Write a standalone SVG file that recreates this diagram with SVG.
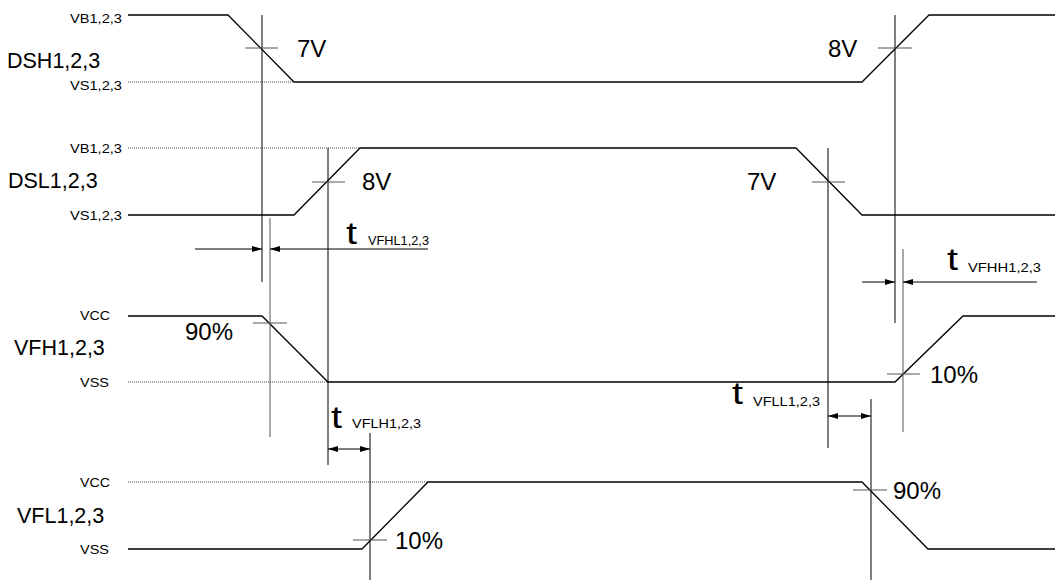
<svg xmlns="http://www.w3.org/2000/svg" width="1055" height="580" viewBox="0 0 1055 580">
<style>
text{font-family:"Liberation Sans",Arial,sans-serif;fill:#000}
.wave{fill:none;stroke:#000;stroke-width:1.3}
.dot{fill:none;stroke:#444;stroke-width:1;stroke-dasharray:1 1}
.v{stroke:#000;stroke-width:1}
.vg{stroke:#555;stroke-width:1}
.tick{stroke:#555;stroke-width:1.2}
.arr{stroke:#000;stroke-width:1;fill:none}
.sig{font-size:21.5px}
.lvl{font-size:12.5px}
.val{font-size:24px}
.t{font-size:31px}
.sub{font-size:13px}
</style>
<defs>
<marker id="ah" markerUnits="userSpaceOnUse" markerWidth="10" markerHeight="6" refX="10" refY="3" orient="auto-start-reverse">
<path d="M0,0 L10,3 L0,6 z" fill="#000"/>
</marker>
</defs>

<g id="dsh">
<text class="sig" x="7" y="68">DSH1,2,3</text>
<text class="lvl" x="70" y="23" textLength="52" lengthAdjust="spacingAndGlyphs">VB1,2,3</text>
<text class="lvl" x="70" y="90" textLength="52" lengthAdjust="spacingAndGlyphs">VS1,2,3</text>
<line class="dot" x1="128" y1="82" x2="294" y2="82"/>
<polyline class="wave" points="128,15 228,15 294,82 862,82 929,15 1055,15"/>
</g>

<g id="dsl">
<text class="sig" x="8" y="188">DSL1,2,3</text>
<text class="lvl" x="70" y="153" textLength="52" lengthAdjust="spacingAndGlyphs">VB1,2,3</text>
<text class="lvl" x="70" y="220" textLength="52" lengthAdjust="spacingAndGlyphs">VS1,2,3</text>
<line class="dot" x1="128" y1="148" x2="360" y2="148"/>
<polyline class="wave" points="128,215 294,215 360,148 796,148 862,215 1055,215"/>
</g>

<g id="vfh">
<text class="sig" x="14" y="355">VFH1,2,3</text>
<text class="lvl" x="80" y="320" textLength="30" lengthAdjust="spacingAndGlyphs">VCC</text>
<text class="lvl" x="80" y="387" textLength="29" lengthAdjust="spacingAndGlyphs">VSS</text>
<line class="dot" x1="128" y1="382" x2="328" y2="382"/>
<polyline class="wave" points="128,316 262,316 328,382 895,382 963,316 1055,316"/>
</g>

<g id="vfl">
<text class="sig" x="17" y="523">VFL1,2,3</text>
<text class="lvl" x="80" y="487" textLength="30" lengthAdjust="spacingAndGlyphs">VCC</text>
<text class="lvl" x="80" y="554" textLength="29" lengthAdjust="spacingAndGlyphs">VSS</text>
<line class="dot" x1="128" y1="482" x2="428" y2="482"/>
<polyline class="wave" points="128,549 362,549 428,482 862,482 928,549 1055,549"/>
</g>

<g id="markers">
<line class="v" x1="262" y1="15" x2="262" y2="282"/>
<line class="vg" x1="270" y1="218" x2="270" y2="437"/>
<line class="v" x1="328" y1="148" x2="328" y2="465"/>
<line class="v" x1="370" y1="433" x2="370" y2="580"/>
<line class="v" x1="828" y1="148" x2="828" y2="448"/>
<line class="v" x1="871" y1="399" x2="871" y2="580"/>
<line class="v" x1="895" y1="15" x2="895" y2="323"/>
<line class="vg" x1="903" y1="249" x2="903" y2="432"/>

<line class="tick" x1="245" y1="48" x2="278" y2="48"/>
<line class="tick" x1="878" y1="48" x2="912" y2="48"/>
<line class="tick" x1="312" y1="182" x2="345" y2="182"/>
<line class="tick" x1="812" y1="182" x2="845" y2="182"/>
<line class="tick" x1="253" y1="323" x2="287" y2="323"/>
<line class="tick" x1="887" y1="374" x2="920" y2="374"/>
<line class="tick" x1="353" y1="540" x2="387" y2="540"/>
<line class="tick" x1="853" y1="490" x2="887" y2="490"/>

<text class="val" x="297" y="57">7V</text>
<text class="val" x="828" y="57">8V</text>
<text class="val" x="362" y="190">8V</text>
<text class="val" x="747" y="190">7V</text>
<text class="val" x="185" y="340">90%</text>
<text class="val" x="930" y="383">10%</text>
<text class="val" x="395" y="549">10%</text>
<text class="val" x="893" y="499">90%</text>
</g>

<g id="connectors">
<line class="arr" x1="195" y1="249" x2="262" y2="249" marker-end="url(#ah)"/>
<line class="arr" x1="428" y1="249" x2="270" y2="249" marker-end="url(#ah)"/>
<line class="arr" x1="862" y1="282" x2="895" y2="282" marker-end="url(#ah)"/>
<line class="arr" x1="1037" y1="282" x2="903" y2="282" marker-end="url(#ah)"/>
<line class="arr" x1="328" y1="449" x2="370" y2="449" marker-start="url(#ah)" marker-end="url(#ah)"/>
<line class="arr" x1="828" y1="416" x2="871" y2="416" marker-start="url(#ah)" marker-end="url(#ah)"/>
</g>

<g id="timing-labels">
<text class="t" x="346" y="244" textLength="11" lengthAdjust="spacingAndGlyphs">t</text>
<text class="sub" x="368" y="245" textLength="61" lengthAdjust="spacingAndGlyphs">VFHL1,2,3</text>
<text class="t" x="947" y="270" textLength="11" lengthAdjust="spacingAndGlyphs">t</text>
<text class="sub" x="968" y="272" textLength="73" lengthAdjust="spacingAndGlyphs">VFHH1,2,3</text>
<text class="t" x="331" y="428" textLength="11" lengthAdjust="spacingAndGlyphs">t</text>
<text class="sub" x="352" y="428" textLength="69" lengthAdjust="spacingAndGlyphs">VFLH1,2,3</text>
<text class="t" x="732" y="404" textLength="11" lengthAdjust="spacingAndGlyphs">t</text>
<text class="sub" x="753" y="406" textLength="67" lengthAdjust="spacingAndGlyphs">VFLL1,2,3</text>
</g>
</svg>
